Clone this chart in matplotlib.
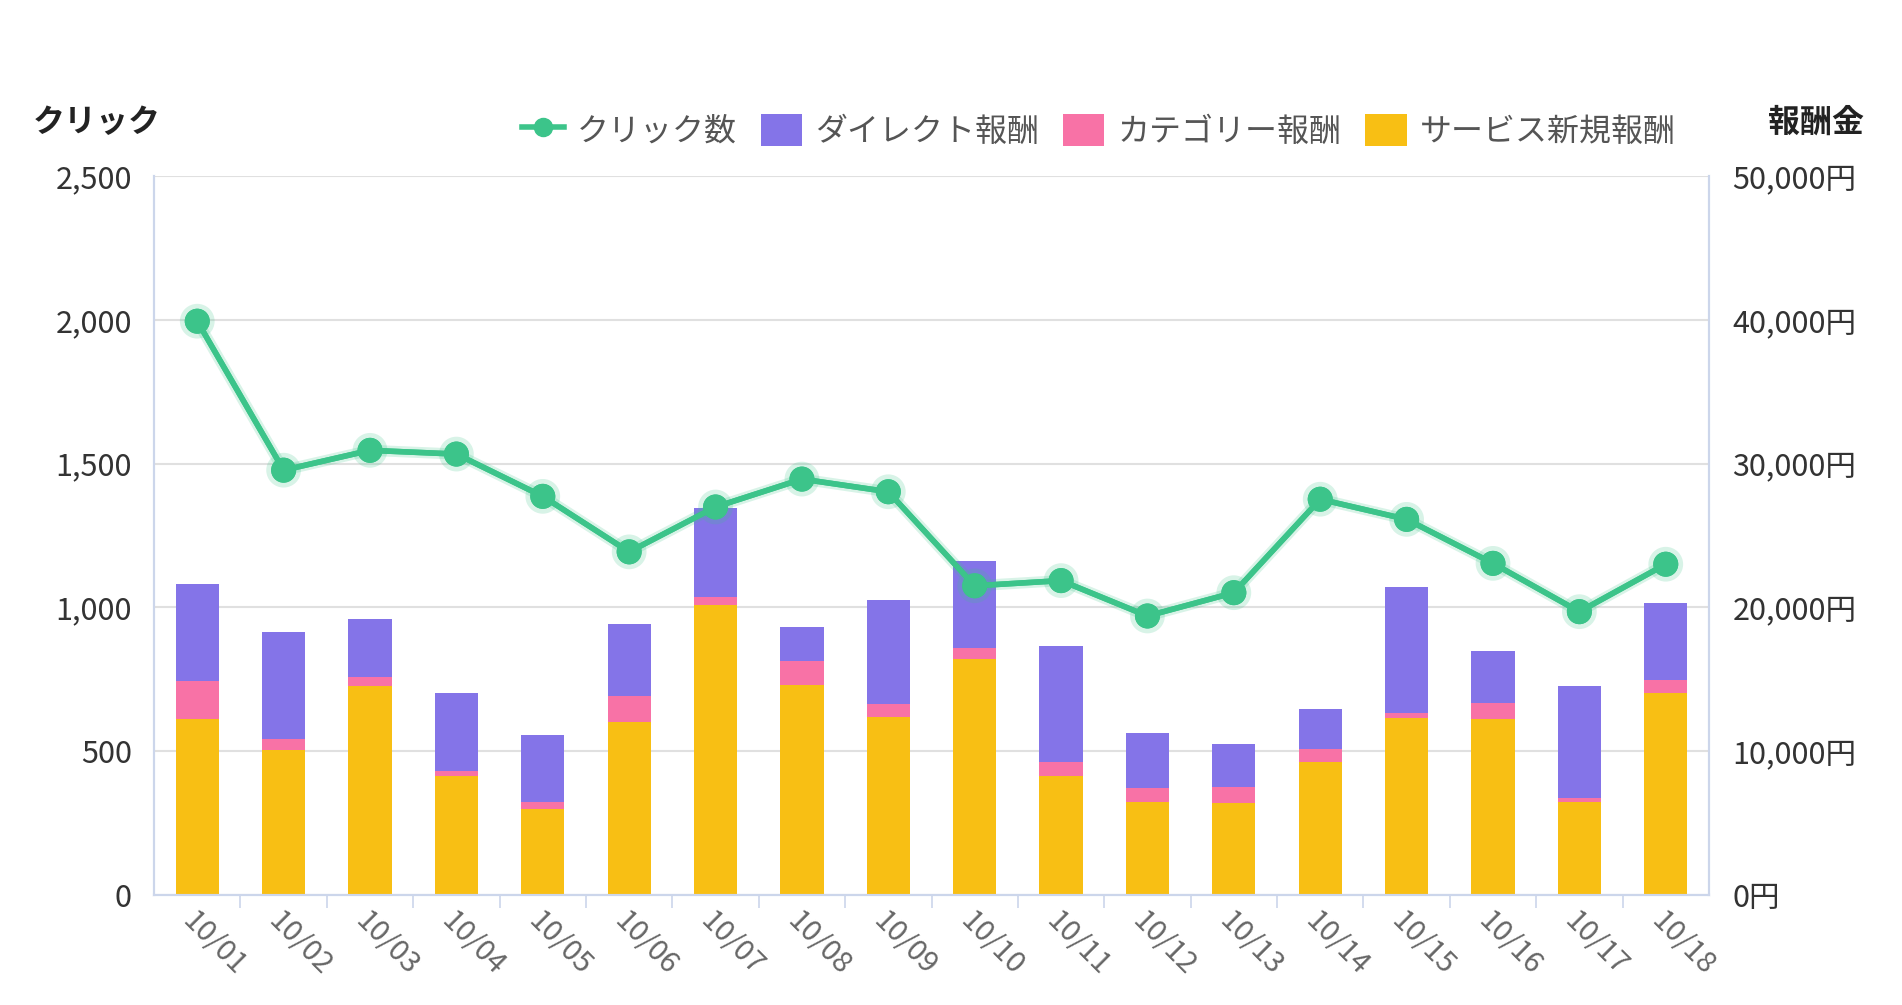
import numpy as np
import matplotlib.pyplot as plt
from matplotlib.lines import Line2D
from matplotlib.patches import Patch
import matplotlib.patheffects as pe

plt.rcParams['font.family'] = ['Noto Sans CJK JP', 'DejaVu Sans']

days = ['10/01', '10/02', '10/03', '10/04', '10/05', '10/06', '10/07', '10/08', '10/09',
        '10/10', '10/11', '10/12', '10/13', '10/14', '10/15', '10/16', '10/17', '10/18']
clicks = [1995, 1477, 1546, 1533, 1386, 1193, 1349, 1446, 1402,
          1075, 1093, 970, 1051, 1376, 1306, 1153, 985, 1150]
serviceReward = [12230, 10100, 14500, 8300, 5980, 12020, 20140, 14600, 12360,
                 16430, 8300, 6450, 6420, 9270, 12290, 12220, 6490, 14070]
categoryReward = [2670, 750, 660, 350, 450, 1810, 610, 1670, 920,
                  740, 970, 970, 1110, 860, 390, 1110, 280, 880]
directReward = [6710, 7430, 4050, 5400, 4660, 4980, 6180, 2360, 7210,
                6070, 8070, 3830, 2970, 2780, 8760, 3640, 7770, 5330]

yellow = '#F8BF14'
pink = '#F872A6'
purple = '#8474E8'
green = '#3CC48A'
axisColor = '#CCD6EB'
gridColor = '#E0E0E0'

fig = plt.figure(figsize=(19.02, 10.05), dpi=100)
ax = fig.add_axes([0.081, 0.1095, 0.8175, 0.7154])
ax2 = ax.twinx()

x = np.arange(len(days))
service = np.array(serviceReward)
category = np.array(categoryReward)
direct = np.array(directReward)

ax.bar(x, service, 0.5, color=yellow, zorder=2)
ax.bar(x, category, 0.5, bottom=service, color=pink, zorder=2)
ax.bar(x, direct, 0.5, bottom=service + category, color=purple, zorder=2)

ax2.plot(x, clicks, color=green, linewidth=4, marker='o', markersize=17, zorder=3,
         path_effects=[pe.withStroke(linewidth=8, foreground=green, alpha=0.2), pe.Normal()])

ax.set_xlim(-0.5, len(days) - 0.5)
ax.set_ylim(0, 50000)
ax2.set_ylim(0, 2500)

# bars on the right axis, clicks on the left
ax.yaxis.tick_right()
ax2.yaxis.tick_left()
ax.set_yticks(np.arange(0, 50001, 10000))
ax.set_yticklabels(['{:,}円'.format(v) for v in range(0, 50001, 10000)], fontsize=22, color='#333333')
ax2.set_yticks(np.arange(0, 2501, 500))
ax2.set_yticklabels(['{:,}'.format(v) for v in range(0, 2501, 500)], fontsize=22, color='#333333')
ax.tick_params(axis='y', length=0, pad=17)
ax2.tick_params(axis='y', length=0, pad=16)

ax.set_xticks(x)
ax.set_xticklabels(days, rotation=-45, ha='left', va='top', rotation_mode='anchor',
                   fontsize=21, color='#666666')
ax.tick_params(axis='x', which='major', length=0, pad=8)
ax.set_xticks(np.arange(0.5, len(days) - 1, 1), minor=True)
ax.tick_params(axis='x', which='minor', length=9, color=axisColor, width=1.2)

ax.grid(axis='y', color=gridColor, linewidth=1.5, zorder=0)
ax.set_axisbelow(True)
for a in (ax, ax2):
    a.spines['top'].set_visible(False)
    for s in ('left', 'right', 'bottom'):
        a.spines[s].set_color(axisColor)
        a.spines[s].set_linewidth(1.5)

fig.text(0.017, 0.878, 'クリック', fontsize=23, fontweight='bold', color='#222222', ha='left', va='center')
fig.text(0.980, 0.878, '報酬金', fontsize=23, fontweight='bold', color='#222222', ha='right', va='center')

handles = [
    Line2D([], [], color=green, linewidth=4, marker='o', markersize=13),
    Patch(facecolor=purple, edgecolor='none'),
    Patch(facecolor=pink, edgecolor='none'),
    Patch(facecolor=yellow, edgecolor='none'),
]
labels = ['クリック数', 'ダイレクト報酬', 'カテゴリー報酬', 'サービス新規報酬']
leg = fig.legend(handles, labels, loc='center right', bbox_to_anchor=(0.896, 0.87),
                 ncol=4, frameon=False, fontsize=23, handlelength=1.3, handleheight=1.2,
                 handletextpad=0.4, columnspacing=0.75, labelcolor='#555555')

plt.savefig('out.png')
